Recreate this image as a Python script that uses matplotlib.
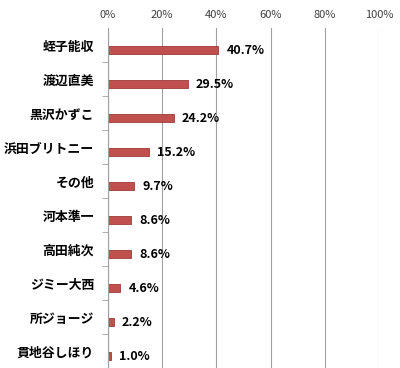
import matplotlib
matplotlib.use('Agg')
import matplotlib.pyplot as plt
import numpy as np

plt.rcParams['font.family'] = ['Noto Sans CJK JP', 'DejaVu Sans']

# data
names = ['蛭子能収', '渡辺直美', '黒沢かずこ', '浜田ブリトニー', 'その他',
         '河本準一', '高田純次', 'ジミー大西', '所ジョージ', '貫地谷しほり']
share = [40.7, 29.5, 24.2, 15.2, 9.7, 8.6, 8.6, 4.6, 2.2, 1.0]
xticks = [0, 20, 40, 60, 80, 100]

fig = plt.figure(figsize=(4, 3.68), dpi=100)
ax = fig.add_axes([0.27, 0.0, 0.6775, 0.9239])

pos = np.arange(len(names)) + 0.5
ax.barh(pos + 0.15, share, height=0.25, color='#C0504D', edgecolor='#9B3B38',
        linewidth=0.6, zorder=3)

for p, v in zip(pos, share):
    ax.text(v + 3, p + 0.17, '%.1f%%' % v, va='center', ha='left',
            fontsize=9, fontweight='bold', color='black')

ax.set_xlim(0, 100)
ax.set_ylim(len(names), 0)
ax.set_xticks(xticks)
ax.set_xticklabels(['%d%%' % t for t in xticks], fontsize=8, color='#404040')
ax.xaxis.tick_top()
ax.tick_params(axis='x', length=0, pad=6)
ax.grid(axis='x', color='#A0A0A0', linewidth=0.8, zorder=0)

ax.set_yticks(pos)
ax.set_yticklabels(names, fontsize=9.3, fontweight='bold')
ax.tick_params(axis='y', length=0, pad=10)
ax.set_yticks(np.arange(1, len(names)), minor=True)
ax.tick_params(axis='y', which='minor', length=4, color='#A0A0A0')

for s in ['top', 'right', 'bottom']:
    ax.spines[s].set_visible(False)
ax.spines['left'].set_color('#A0A0A0')
ax.spines['left'].set_zorder(4)

fig.savefig('out.png', dpi=100)
